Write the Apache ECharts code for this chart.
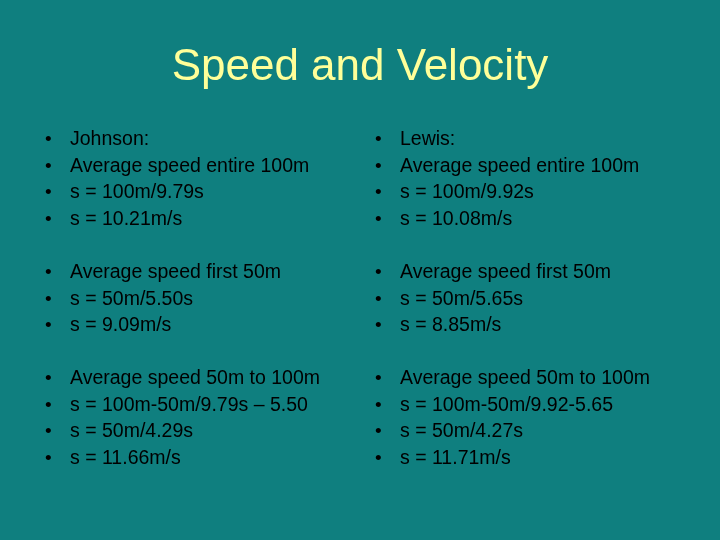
<!DOCTYPE html>
<html>
<head>
<meta charset="utf-8">
<script src="https://cdn.jsdelivr.net/npm/echarts@6/dist/echarts.min.js"></script>
<style>html,body{margin:0;padding:0;background:#0f7f7f}#main{width:720px;height:540px}</style>
</head>
<body>
<div id="main"></div>
<script>
let titleText = 'Speed and Velocity';
let leftLines = [
    ['Johnson:', 'Average speed entire 100m', 's = 100m/9.79s', 's = 10.21m/s'],
    ['Average speed first 50m', 's = 50m/5.50s', 's = 9.09m/s'],
    ['Average speed 50m to 100m', 's = 100m-50m/9.79s \u2013 5.50', 's = 50m/4.29s', 's = 11.66m/s']
];
let rightLines = [
    ['Lewis:', 'Average speed entire 100m', 's = 100m/9.92s', 's = 10.08m/s'],
    ['Average speed first 50m', 's = 50m/5.65s', 's = 8.85m/s'],
    ['Average speed 50m to 100m', 's = 100m-50m/9.92-5.65', 's = 50m/4.27s', 's = 11.71m/s']
];
let groupTops = [140, 273, 379];

let myChart = echarts.init(document.getElementById('main'));
let font = 'Liberation Sans, Arial, sans-serif';
let elements = [{
    type: 'text', left: 'center', top: 46,
    style: {text: titleText, fontSize: 44, fill: '#ffff99', fontFamily: font}
}];

function addColumn(groups, bulletX, textX) {
    groups.forEach(function (lines, g) {
        lines.forEach(function (line, i) {
            let y = groupTops[g] + i * 26.5;
            elements.push({type: 'text', x: bulletX, y: y,
                style: {text: '\u2022', fontSize: 19, fill: '#000', fontFamily: font, verticalAlign: 'middle'}});
            elements.push({type: 'text', x: textX, y: y,
                style: {text: line, fontSize: 19.5, fill: '#000', fontFamily: font, verticalAlign: 'middle'}});
        });
    });
}
addColumn(leftLines, 45, 70);
addColumn(rightLines, 375, 400);

myChart.setOption({backgroundColor: '#0f7f7f', graphic: elements});
</script>
</body>
</html>
